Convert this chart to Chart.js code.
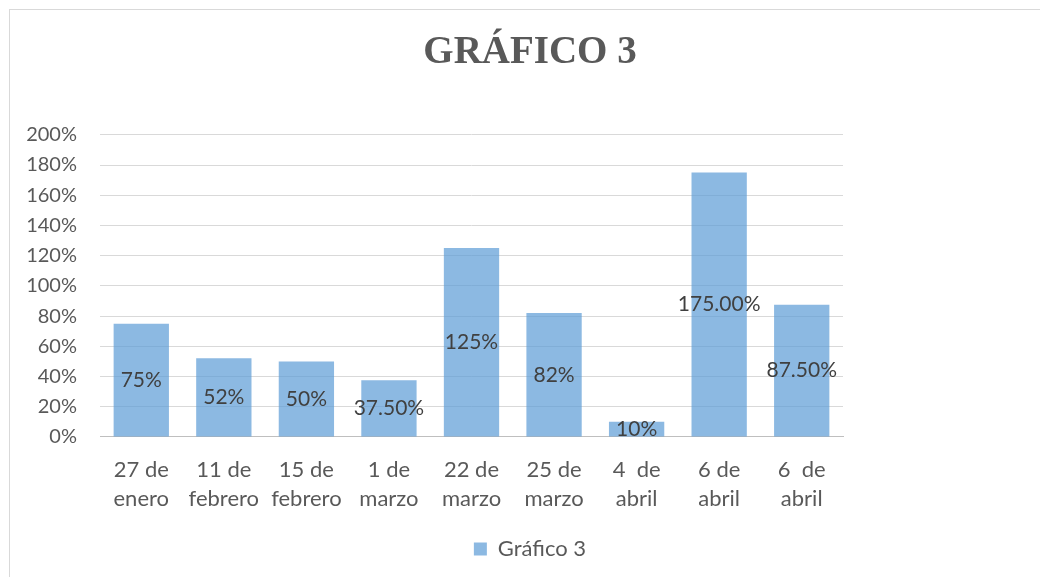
<!DOCTYPE html>
<html>
<head>
<meta charset="utf-8">
<script src="https://cdn.jsdelivr.net/npm/chart.js@4"></script>
<style>
  html, body { margin: 0; padding: 0; background: #fff; overflow: hidden; }
  body { width: 1040px; height: 577px; position: relative; }
  #frame {
    position: absolute; left: 9px; top: 9px;
    width: 1042px; height: 600px;
    border: 1px solid #d9d9d9;
  }
  #wrap { position: absolute; left: 0; top: 0; width: 1040px; height: 567px; }
</style>
</head>
<body>
<div id="frame"><div id="wrap"><canvas id="grafico"></canvas></div></div>
<script>
// Datos del gráfico
const categories = [
    ['27 de', 'enero'],
    ['11 de', 'febrero'],
    ['15 de', 'febrero'],
    ['1 de', 'marzo'],
    ['22 de', 'marzo'],
    ['25 de', 'marzo'],
    ['4  de', 'abril'],
    ['6 de', 'abril'],
    ['6  de', 'abril']
];
const values = [75, 52, 50, 37.5, 125, 82, 10, 175, 87.5];
const valueLabels = ['75%', '52%', '50%', '37.50%', '125%', '82%', '10%', '175.00%', '87.50%'];
const yTicks = [0, 20, 40, 60, 80, 100, 120, 140, 160, 180, 200];

const barColor = 'rgba(91,155,213,0.7)';
const textColor = '#595959';

// Etiquetas de datos en el centro de cada barra
const centerLabels = {
    id: 'centerLabels',
    afterDatasetsDraw(chart) {
        const ctx = chart.ctx;
        const meta = chart.getDatasetMeta(0);
        ctx.save();
        ctx.font = '21px Lato';
        ctx.fillStyle = '#404040';
        ctx.textAlign = 'center';
        ctx.textBaseline = 'middle';
        meta.data.forEach((bar, i) => {
            const y = (bar.y + bar.base) / 2;
            ctx.fillText(valueLabels[i], bar.x, y);
        });
        ctx.restore();
    }
};

document.addEventListener('DOMContentLoaded', function() {
    const ctx = document.getElementById('grafico');
    new Chart(ctx, {
        type: 'bar',
        data: {
            labels: categories,
            datasets: [{
                label: 'Gráfico 3',
                data: values,
                backgroundColor: barColor,
                borderWidth: 0,
                categoryPercentage: 1,
                barPercentage: 0.67
            }]
        },
        options: {
            responsive: true,
            maintainAspectRatio: false,
            animation: false,
            layout: { padding: { left: 0, right: 0, top: 0, bottom: 7 } },
            plugins: {
                title: {
                    display: true,
                    text: 'GRÁFICO 3',
                    color: textColor,
                    font: { family: 'Liberation Serif', size: 39, weight: 'bold' },
                    padding: { top: 20, bottom: 58 }
                },
                legend: {
                    position: 'bottom',
                    labels: {
                        color: textColor,
                        font: { family: 'Lato', size: 22 },
                        boxWidth: 13,
                        boxHeight: 13,
                        padding: 15
                    }
                },
                tooltip: { enabled: false }
            },
            scales: {
                x: {
                    grid: { display: false },
                    border: { color: '#bfbfbf', width: 1 },
                    ticks: {
                        color: textColor,
                        font: { family: 'Lato', size: 22, lineHeight: 1.32 },
                        padding: 10,
                        maxRotation: 0,
                        autoSkip: false
                    }
                },
                y: {
                    min: 0,
                    max: 200,
                    afterFit: s => { s.width = 90; },
                    afterBuildTicks: s => { s.ticks = yTicks.map(v => ({ value: v })); },
                    border: { display: false },
                    grid: {
                        color: c => c.tick && c.tick.value === 0 ? '#bfbfbf' : '#d9d9d9',
                        drawTicks: false
                    },
                    ticks: {
                        color: textColor,
                        font: { family: 'Lato', size: 20 },
                        padding: 23,
                        callback: v => v + '%'
                    }
                },
                // espacio vacío a la derecha del área de trazado
                derecha: {
                    type: 'linear',
                    position: 'right',
                    afterFit: s => { s.width = 207; },
                    border: { display: false },
                    grid: { display: false },
                    ticks: { display: false }
                }
            }
        },
        plugins: [centerLabels]
    });
});
</script>
</body>
</html>
